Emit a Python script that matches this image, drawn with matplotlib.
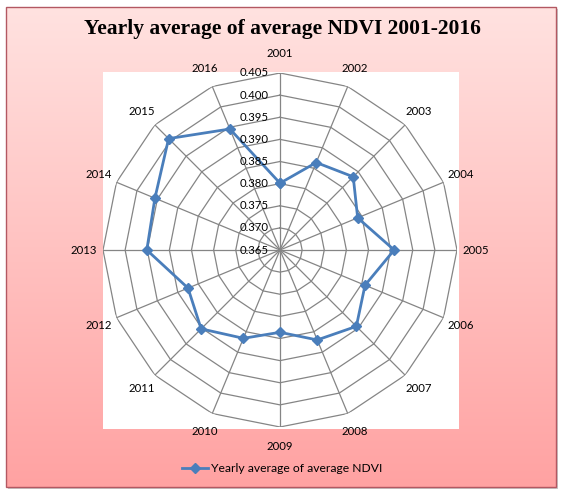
import numpy as np
import matplotlib.pyplot as plt
from matplotlib.colors import LinearSegmentedColormap
from matplotlib.patches import Rectangle
from matplotlib import transforms

years = [str(y) for y in range(2001, 2017)]
ndvi = [0.3801, 0.3864, 0.3884, 0.3840, 0.3908, 0.3858, 0.3894, 0.3870,
        0.3836, 0.3866, 0.3902, 0.3875, 0.3951, 0.3956, 0.4006, 0.3946]
ring_vals = [0.365, 0.370, 0.375, 0.380, 0.385, 0.390, 0.395, 0.400, 0.405]
series_name = "Yearly average of average NDVI"
title = "Yearly average of average NDVI 2001-2016"

W, H = 563, 496
fig = plt.figure(figsize=(W / 100, H / 100), dpi=100)

# background: pink gradient chart area with border, white plot area
bg = fig.add_axes([0, 0, 1, 1])
bg.set_xlim(0, W)
bg.set_ylim(H, 0)
bg.axis("off")
cmap = LinearSegmentedColormap.from_list("pink", ["#ffe2e0", "#ffa2a2"])
grad = np.linspace(0, 1, 256).reshape(-1, 1)
bg.add_patch(Rectangle((8, 9), 550, 480, facecolor="#c8c8c8", edgecolor="none"))
bg.imshow(grad, cmap=cmap, extent=(6, 556, 487, 7), aspect="auto", zorder=1)
bg.add_patch(Rectangle((6, 7), 550, 480, facecolor="none", edgecolor="#b35862",
                       lw=1, zorder=2))
bg.add_patch(Rectangle((103, 72), 356, 357, facecolor="white", edgecolor="none", zorder=2))
bg.text(282, 29, title, ha="center", va="center", fontsize=15.5, fontweight="bold",
        family="Liberation Serif", zorder=3)

# radar chart on a polar axes
cx, cy, R = 280, 250, 177
ax = fig.add_axes([(cx - R) / W, (H - cy - R) / H, 2 * R / W, 2 * R / H],
                  projection="polar")
ax.set_theta_zero_location("N")
ax.set_theta_direction(-1)
ax.set_ylim(ring_vals[0], ring_vals[-1])
ax.grid(False)
ax.set_xticks([])
ax.set_yticks([])
ax.spines["polar"].set_visible(False)
ax.patch.set_alpha(0)

theta = np.arange(len(years)) * 2 * np.pi / len(years)
tc = np.append(theta, theta[0])
grid_col = "#858585"
for r in ring_vals[1:]:
    ax.plot(tc, [r] * len(tc), color=grid_col, lw=0.9, zorder=1)
for t in theta:
    ax.plot([t, t], [ring_vals[0], ring_vals[-1]], color=grid_col, lw=0.9, zorder=1)

ax.plot(tc, np.append(ndvi, ndvi[0]), color="#4a7ebb", lw=2, marker="D", ms=5,
        label=series_name, zorder=3)

lab_font = dict(family="Lato", fontsize=8.2, color="black")
r_lab = ring_vals[-1] + (ring_vals[-1] - ring_vals[0]) * 19 / R
for t, y in zip(theta, years):
    ax.text(t, r_lab, y, ha="center", va="center", clip_on=False, **lab_font)

off = transforms.offset_copy(ax.transData, fig=fig, x=-8, y=0, units="points")
for r in ring_vals:
    ax.text(0, r, f"{r:.3f}", transform=off, ha="right", va="center", **lab_font)

fig.legend(loc="center", bbox_to_anchor=(282 / W, 1 - 469 / H), frameon=False,
           prop={"family": "Lato", "size": 8.7}, handlelength=2.2, handletextpad=0.2)

fig.savefig("out.png", dpi=100)
